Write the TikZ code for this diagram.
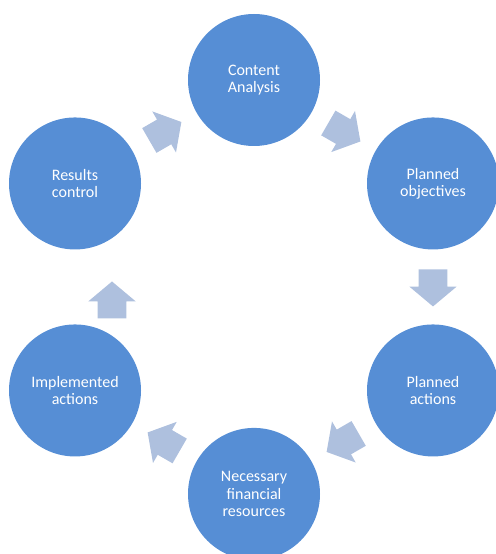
\documentclass[tikz,border=0pt]{standalone}
\usepackage{fontspec}
\setmainfont{Carlito}
\usepackage{tikz}
\usetikzlibrary{positioning,calc,shapes.arrows}
\definecolor{disc}{RGB}{86,142,213}
\definecolor{flow}{RGB}{174,192,222}
\tikzset{
  stage/.style={circle,fill=disc,minimum size=99pt,inner sep=0pt,text=white,
    align=center,font=\fontsize{12}{12.8}\selectfont},
  blk/.style={single arrow,fill=flow,draw=none,minimum height=27.75pt,
    minimum width=0pt,inner xsep=0pt,inner ysep=10.5pt,
    single arrow head extend=7.1pt,single arrow tip angle=100,
    rotate=#1,xshift=-3.75pt},
}

\begin{document}
\begin{tikzpicture}[x=0.75pt,y=0.75pt,node distance=77.6pt and 134.25pt]
  \useasboundingbox (0,0) rectangle (496,554);

  % Stages round the cycle
  \node[stage] (ca) at (254,474) {Content\\Analysis};
  \node[stage,on grid,below right=of ca] (po) {Planned\\objectives};
  \node[stage,on grid,below=155.25pt of po] (pa) {Planned\\actions};
  \node[stage,on grid,below left=of pa] (nf) {Necessary\\financial\\resources};
  \node[stage,on grid,above left=of nf] (ia) {Implemented\\actions};
  \node[stage,on grid,above=155.25pt of ia] (rc) {Results\\control};

  % Block arrows between the stages
  \node[blk=-30] (a1) at ($(ca)!0.5!(po)$) {};
  \node[blk=-90] (a2) at ($(po)!0.5!(pa)$) {};
  \node[blk=-150] (a3) at ($(pa)!0.5!(nf)$) {};
  \node[blk=150] (a4) at ($(nf)!0.5!(ia)$) {};
  \node[blk=90] (a5) at ($(ia)!0.5!(rc)+(37,-14)$) {};
  \node[blk=30] (a6) at ($(rc)!0.5!(ca)$) {};
\end{tikzpicture}
\end{document}
